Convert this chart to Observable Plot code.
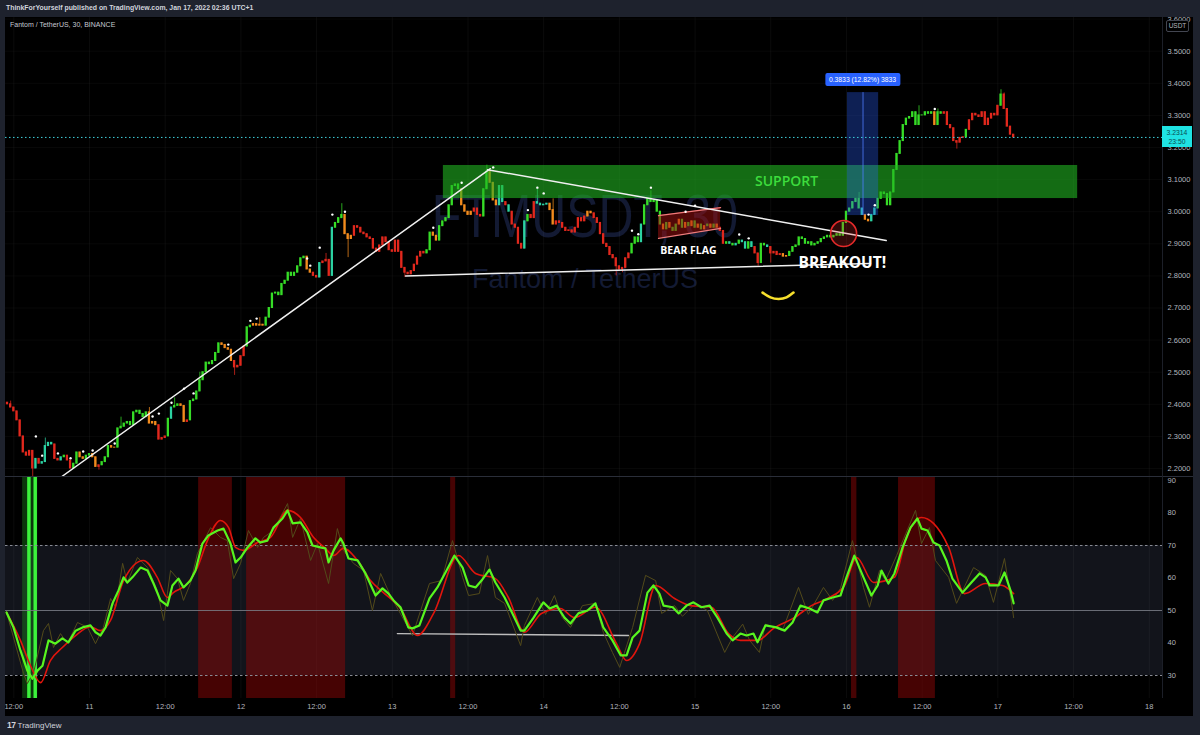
<!DOCTYPE html>
<html><head><meta charset="utf-8">
<script src="https://cdn.jsdelivr.net/npm/d3@7"></script>
<script src="https://cdn.jsdelivr.net/npm/@observablehq/plot@0.6"></script>
<style>
body{margin:0;background:#1e222d;width:1200px;height:735px;position:relative;overflow:hidden;font-family:"Liberation Sans",Arial,sans-serif}
.abs{position:absolute}
</style></head><body>
<div class="abs" style="left:5px;top:17px;width:1188px;height:699px;background:#000"></div>
<div class="abs" style="left:335px;top:185px;width:500px;text-align:center;font:62px 'Liberation Sans',Arial,sans-serif;line-height:62px;color:#131a33;transform:scaleX(0.78);white-space:nowrap">FTMUSDT, 30</div>
<div class="abs" style="left:385px;top:266px;width:400px;text-align:center;font:27px 'Liberation Sans',Arial,sans-serif;line-height:27px;color:#131a33;white-space:nowrap">Fantom / TetherUS</div>
<div class="abs" id="p1" style="left:5px;top:17px"></div>
<div class="abs" id="p2" style="left:5px;top:477px"></div>
<div class="abs" style="left:5px;top:476px;width:1188px;height:1px;background:#2a2e39"></div>
<div class="abs" style="left:1162px;top:17px;width:1px;height:681px;background:#1c1f28"></div>
<div class="abs" style="left:0;top:0;width:1200px;height:17px;background:#1e222d;z-index:5"></div>
<div class="abs" style="left:6px;top:4px;font-size:6.9px;font-weight:600;color:#d1d4dc;z-index:6;white-space:nowrap">ThinkForYourself published on TradingView.com, Jan 17, 2022 02:36 UTC+1</div>
<div class="abs" style="left:10px;top:21px;font-size:7px;color:#c5c8d0;white-space:nowrap">Fantom / TetherUS, 30, BINANCE</div>
<div class="abs" style="left:1166px;top:20px;width:21px;height:10px;border:1px solid #434651;border-radius:2px;font-size:6.5px;line-height:10px;text-align:center;color:#b2b5be;background:#000;z-index:6">USDT</div>
<div class="abs" id="lastLbl" style="left:1162px;width:30px;height:21px;background:#1fe3e3;color:#0a4d52;font-size:6.8px;line-height:9px;text-align:center;padding-top:1.5px;box-sizing:border-box"></div>
<div class="abs" id="measLbl" style="transform:translateX(-50%);background:#2962ff;color:#fff;font-size:6.8px;line-height:13px;height:13px;padding:0 4px;border-radius:2px;white-space:nowrap"></div>
<div class="abs" style="left:7px;top:720px;font-size:8px;color:#d1d4dc;white-space:nowrap"><b style="font-size:8.5px;letter-spacing:-0.5px">17</b> TradingView</div>
<script>
// ---------------- DATA ----------------
const firstIndex = 22;          // candle index (30-min bars counted from Jan 10 00:00)
const firstOpen = 2.405;
const closes = [
  // Jan 10 11:00 - 24:00
  2.400, 2.390, 2.378, 2.350, 2.300, 2.250, 2.240, 2.255, 2.200, 2.230,
  2.215, 2.220, 2.270, 2.280, 2.275, 2.230, 2.225, 2.235, 2.240, 2.225,
  2.200, 2.215, 2.250, 2.235, 2.230, 2.240,
  // Jan 11 00-12
  2.245, 2.235, 2.205, 2.210, 2.220, 2.235, 2.270, 2.265, 2.265, 2.325,
  2.330, 2.340, 2.345, 2.335, 2.375, 2.380, 2.370, 2.360, 2.375, 2.340,
  2.345, 2.335, 2.290, 2.295,
  // Jan 11 12-24
  2.300, 2.355, 2.390, 2.395, 2.400, 2.395, 2.345, 2.350, 2.410, 2.415,
  2.440, 2.475, 2.500, 2.530, 2.525, 2.535, 2.560, 2.590, 2.585, 2.575,
  2.570, 2.535, 2.515, 2.520,
  // Jan 12 00-12
  2.550, 2.580, 2.640, 2.645, 2.650, 2.645, 2.648, 2.645, 2.670, 2.700,
  2.745, 2.748, 2.740, 2.775, 2.785, 2.810, 2.800, 2.810, 2.830, 2.855,
  2.860, 2.820, 2.810, 2.800,
  // Jan 12 12-24
  2.795, 2.840, 2.845, 2.850, 2.800, 2.950, 2.965, 2.980, 2.990, 2.930,
  2.915, 2.925, 2.955, 2.950, 2.935, 2.930, 2.920, 2.915, 2.885, 2.875,
  2.895, 2.920, 2.905, 2.880,
  // Jan 13 00-12
  2.875, 2.910, 2.875, 2.825, 2.810, 2.805, 2.815, 2.835, 2.860, 2.875,
  2.870, 2.880, 2.935, 2.925, 2.910, 2.955, 2.970, 2.980, 3.020, 3.080,
  3.085, 3.070, 3.020, 3.000,
  // Jan 13 12-24
  2.990, 3.000, 3.010, 2.990, 2.985, 3.070, 3.125, 3.090, 3.035, 3.020,
  3.080, 3.030, 3.020, 3.000, 2.960, 2.950, 2.900, 2.885, 2.970, 2.990,
  2.980, 3.030, 3.025, 3.020,
  // Jan 14 00-12
  3.022, 3.025, 3.005, 2.960, 2.970, 2.965, 2.950, 2.940, 2.942, 2.935,
  2.950, 2.980, 2.970, 2.985, 3.000, 2.995, 2.980, 2.965, 2.930, 2.900,
  2.890, 2.865, 2.855, 2.830,
  // Jan 14 12-24
  2.820, 2.825, 2.855, 2.870, 2.900, 2.920, 2.905, 2.960, 3.020, 3.040,
  3.030, 3.035, 3.000, 2.960, 2.945, 2.965, 2.950, 2.940, 2.960, 2.975,
  2.950, 2.965, 2.955, 2.970,
  // Jan 15 00-12
  2.950, 2.960, 2.945, 2.955, 2.960, 2.950, 2.960, 2.950, 2.940, 2.900,
  2.905, 2.900, 2.895, 2.900, 2.910, 2.905, 2.885, 2.905, 2.890, 2.870,
  2.840, 2.900, 2.895, 2.890,
  // Jan 15 12-24
  2.870, 2.875, 2.865, 2.868, 2.860, 2.862, 2.875, 2.890, 2.895, 2.920,
  2.915, 2.900, 2.905, 2.895, 2.900, 2.905, 2.915, 2.920, 2.925, 2.920,
  2.925, 2.930, 2.925, 2.965,
  // Jan 16 00-12
  3.000, 3.010, 3.030, 3.040, 3.010, 2.990, 2.975, 2.970, 2.990, 3.010,
  3.040, 3.060, 3.055, 3.020, 3.060, 3.130, 3.180, 3.220, 3.270, 3.290,
  3.295, 3.310, 3.270, 3.300,
  // Jan 16 12-24
  3.300, 3.310, 3.305, 3.310, 3.270, 3.310, 3.305, 3.310, 3.270, 3.260,
  3.220, 3.215, 3.230, 3.232, 3.255, 3.285, 3.305, 3.300, 3.295, 3.310,
  3.270, 3.290, 3.305, 3.300,
  // Jan 17 00:00 - 02:30
  3.330, 3.365, 3.320, 3.265, 3.240, 3.2314
];
// candle colour class per bar: g green, r red, o orange, t teal
const candleKinds = [
  "rrrrrrrrrtrttttrrtgrrggoog",
  "goorgggooggggggggggooorr",
  "rgtggoor" + "gggggggggg" + "oooo" + "rr",
  "rrggoooo" + "ggggggggggggg" + "oor",
  "rtrrrtgggooo" + "rrrrrrrrrrrr",
  "rrrrrrrrrrr" + "ggoo" + "ggggggg" + "oo",
  "oorrrggooottrtrrrrtgrrtt",
  "ttoo" + "rrrrrrrrrr" + "oo" + "rrrrrrrr",
  "rrrrgggtgggggg" + "ogoggogogo",
  "gogogogorrgtgtgttgtrrggt",
  "rrrroo" + "gggggggggggggggggg",
  "gggggtoott" + "gggggggggggggg",
  "ggggoggrrrrrrrg" + "rrrrrrrrr",
  "rgrrrr"
].join("").split("");
// prominent wicks
const wickIdx  = [23, 30, 34, 51, 58, 67, 75, 83, 94, 102, 123, 128, 130, 148, 174, 190, 195, 215, 217, 226, 260, 264, 292, 311, 317, 323, 337, 338];
const wickHigh = [2.41, null, 2.295, null, 2.36, 2.39, 2.42, 2.50, null, 2.67, 2.87, 3.025, null, null, 3.145, 3.07, 3.04, null, null, 3.065, null, null, 3.06, 3.33, 3.32, null, 3.38, 3.37];
const wickLow  = [null, 2.172, null, 2.195, null, null, null, null, 2.49, null, null, null, 2.857, 2.795, null, null, null, 2.80, 2.81, null, 2.83, 2.84, null, null, null, 3.195, null, null];
// fractal dots
const dotIdx   = [31, 33, 38, 42, 46, 49, 56, 68, 70, 74, 78, 81, 92, 99, 101, 117, 118, 121, 125, 129, 157, 166, 176, 187, 190, 192, 220, 222, 226, 237, 240, 254, 257, 295, 297, 316];
const dotPrice = [2.30, 2.24, 2.247, 2.232, 2.253, 2.256, 2.278, 2.362, 2.371, 2.405, 2.449, 2.434, 2.586, 2.66, 2.667, 2.854, 2.832, 2.888, 2.991, 3.0, 2.95, 3.09, 3.138, 3.005, 3.075, 3.057, 2.941, 2.93, 3.075, 3.0, 3.019, 2.929, 2.917, 2.991, 3.02, 3.32];

const priceTicks = [2.2, 2.3, 2.4, 2.5, 2.6, 2.7, 2.8, 2.9, 3.0, 3.1, 3.2, 3.3, 3.4, 3.5, 3.6];
const rsiTicks = [30, 40, 50, 60, 70, 80, 90];
const xTickIdx = [24, 48, 72, 96, 120, 144, 168, 192, 216, 240, 264, 288, 312, 336, 360, 384];
const xTickLabels = ["12:00", "11", "12:00", "12", "12:00", "13", "12:00", "14", "12:00", "15", "12:00", "16", "12:00", "17", "12:00", "18"];
const lastClose = 3.2314;

// drawings (index, price)
const upTrend   = [[38.8, 2.172], [175.1, 3.134]];
const topTrend  = [[174.2, 3.131], [300.6, 2.910]];
const baseLine  = [[148.2, 2.800], [295.6, 2.839]];
const supportZone = {x1: 160.2, x2: 361.3, y1: 3.041, y2: 3.144};
const measureZone = {x1: 288.3, x2: 298.2, y1: 2.988, y2: 3.371};
const measureText = "0.3833 (12.82%) 3833";
const bearFlag = [{x: 228.4, lo: 2.917, hi: 2.988}, {x: 248.1, lo: 2.948, hi: 3.013}];
const breakoutCircle = [{x: 287.1, y: 2.932}];
const smile = [[261.4, 2.748], [263.9, 2.733], [266.5, 2.728], [269.0, 2.733], [271.2, 2.748]];
const labels = [
  {x: 269, y: 3.0925, text: "SUPPORT", kind: "support"},
  {x: 237.9, y: 2.879, text: "BEAR FLAG", kind: "flag"},
  {x: 286.7, y: 2.839, text: "BREAKOUT!", kind: "breakout"}
];

// RSI panel (index, value)
const rsiFast = [[21.7,49.4],[23.9,44.8],[26.1,37.7],[28.3,31.5],[29.9,29],[31.5,31.5],[33.1,33],[35.0,40.8],[37.2,39.8],[39.4,41.4],[41.3,40.2],[43.6,43.8],[45.8,44.8],[48.3,45.4],[49.9,43.3],[51.5,42.3],[53.1,44.8],[55.3,52.2],[57.2,56.2],[58.8,60.2],[60.0,58.6],[61.6,60.2],[64.2,63.2],[66.4,62.3],[68.3,58.3],[70.5,53.1],[72.7,51.5],[74.3,57.7],[76.2,59.8],[77.8,57.1],[80.0,59.2],[81.6,62.3],[83.8,70.6],[85.7,73.1],[88.6,74.6],[90.5,75.2],[92.7,70.6],[94.3,64.8],[95.9,66.3],[98.1,69.4],[100.6,72.2],[102.2,70.9],[104.4,71.5],[106.3,75.5],[109.2,78.3],[110.8,80.8],[112.4,76.8],[114.9,77.1],[117.1,74],[118.7,70],[121.2,69.4],[122.8,69.1],[123.8,64.8],[125.4,68.5],[127.6,72.2],[128.5,70.6],[130.1,66],[133.0,65.4],[135.5,61.4],[138.7,54.6],[140.9,56.8],[142.8,55.2],[144.4,53.1],[146.6,51],[149.1,44.8],[150.4,44.5],[152.6,45.4],[155.8,53.7],[158.3,57.1],[161.2,62.3],[163.7,66.9],[166.3,63.2],[168.2,57.7],[170.4,57.1],[172.3,59.2],[174.8,62.6],[176.7,58.6],[179.6,54],[182.1,49.1],[184.7,43.8],[185.9,43.8],[188.8,47.8],[191.9,52.5],[193.9,50.6],[196.1,51.5],[198.6,47.8],[200.5,46],[203.0,49.1],[205.9,50],[208.4,52.2],[210.9,44.8],[213.8,40.8],[216.4,36.2],[218.3,36.2],[220.2,41.7],[222.4,43.8],[224.9,55.5],[226.8,57.7],[228.7,55.2],[230.0,51.5],[232.9,51],[234.8,49.1],[237.3,51.5],[239.5,52.5],[242.0,51],[244.6,51.5],[247.1,47.8],[250.0,42.9],[251.9,40.8],[254.4,42.9],[256.3,42.3],[258.5,42.9],[259.8,40.2],[262.3,45.4],[265.8,44.8],[268.4,43.8],[270.9,46.3],[273.4,51.5],[276.3,50.6],[278.8,49.4],[280.7,53.1],[283.6,54],[286.1,54.6],[288.0,60.2],[290.5,66.9],[293.4,60.2],[295.9,54.6],[297.9,57.7],[299.1,62.3],[301.3,58.3],[303.2,61.4],[305.8,69.4],[308.3,75.5],[310.5,78.3],[311.8,75.2],[313.7,74.6],[315.6,70.9],[317.5,70],[319.7,65.4],[321.6,59.8],[324.8,55.5],[327.6,58.6],[330.2,61.4],[332.1,60.2],[333.4,57.7],[336.2,57.7],[338.1,61.7],[340.0,56.2],[341.0,52.2]];
const rsiSlow = [[21.7,49.4],[26.1,40.8],[29.3,33],[32.5,27.8],[35.6,34.6],[39.4,38.6],[43.6,42.3],[48.3,45],[51.5,43.8],[54.7,47],[58.8,59.2],[65.1,65.4],[69.5,60.2],[72.7,54],[74.6,55.5],[79.1,58.3],[82.2,63.2],[85.4,71.5],[89.5,77.7],[92.1,75.5],[94.3,69.4],[96.8,68.5],[101.3,70.9],[105.4,72.5],[110.8,80.8],[114.9,78.6],[119.0,72.5],[122.8,69.1],[125.4,66.9],[128.5,69.1],[133.0,65.4],[137.1,59.2],[141.2,55.5],[146.6,50.6],[152.0,42.3],[157.1,49.1],[165.0,66.9],[170.4,61.4],[176.7,59.8],[180.8,54],[185.9,43.3],[191.3,49.1],[197.3,50.6],[201.8,47.8],[208.4,51],[215.1,39.8],[218.3,34.6],[222.4,39.8],[227.5,57.7],[233.5,53.7],[238.6,51.5],[245.2,51],[250.6,42.9],[254.4,40.8],[259.8,40.8],[264.9,44.5],[271.5,47.8],[276.9,51.5],[282.0,53.7],[287.4,57.7],[291.2,66.3],[296.6,58.6],[303.2,60.2],[307.0,72.5],[311.8,78.6],[315.6,76.8],[320.4,69.4],[325.4,55.2],[332.1,58.3],[337.5,57.7],[341.0,55.2]];
const rsiRaw = [[21.7,49.4],[27.1,30.6],[28.3,27.5],[30.3,31],[33.4,43.8],[35.0,46],[36.6,38.6],[38.8,42.9],[41.0,39.8],[44.2,46.3],[47.4,44.8],[49.9,39.8],[52.4,44.8],[54.7,53.7],[56.3,51],[58.5,64.5],[60.0,58.6],[63.2,66.3],[66.4,63.2],[69.5,56.2],[71.5,46.9],[73.7,62.3],[75.9,59.8],[77.8,53.1],[80.0,58.3],[82.2,67.5],[86.4,75.5],[89.5,72.5],[91.7,71.5],[93.7,59.8],[95.9,64.5],[98.4,74.6],[101.3,69.4],[103.2,72.5],[106.3,74.6],[110.8,82.9],[112.4,72.5],[114.9,78.3],[118.1,65.4],[120.3,70.6],[123.8,58.3],[126.6,75.2],[128.5,68.5],[131.7,64.5],[134.9,62.3],[137.7,50],[140.3,61.4],[143.4,54.6],[146.6,49],[150.4,42.3],[155.8,58.3],[159.6,59.2],[163.1,71.5],[166.3,60.2],[168.2,54.6],[171.6,55.2],[174.2,66.9],[176.7,54],[179.6,52.2],[184.7,39.2],[185.9,45.4],[190.0,54],[192.6,48.8],[195.4,54.6],[197.9,47.8],[200.5,44.8],[204.3,51.5],[208.4,52.2],[210.9,43.3],[213.8,37.1],[216.1,32.5],[220.2,44.8],[224.3,60.8],[227.5,59.2],[229.4,49.1],[233.5,51.5],[236.0,48.2],[240.1,52.2],[243.9,50],[249.4,37.1],[251.9,41.7],[255.1,45.8],[257.3,40.8],[260.4,37.1],[262.3,45.8],[267.7,43.8],[272.8,57.1],[275.9,48.8],[280.7,57.1],[283.6,53.1],[286.1,56.8],[289.9,71.5],[293.4,57.1],[295.3,51],[298.5,62.3],[300.4,59.2],[303.9,66.9],[309.9,80.8],[311.8,70.6],[314.3,75.5],[316.2,65.4],[320.4,60.2],[322.9,52.2],[328.3,63.2],[332.1,60.8],[334.6,52.5],[338.1,66],[340.7,50],[341.0,47.8]];
const overboughtStart = [82.6, 97.8, 162.5, 289.6, 304.5];
const overboughtEnd   = [93.3, 129.2, 164.1, 291.3, 316.2];
const oversoldZone = [[26.8, 31.6]];
const oversoldBars = [[28.4, 29.5], [30.4, 31.5]];
const rsiNote = [[145.6, 42.9], [218.9, 42.3]];

// ---------------- SCALES / STYLES ----------------
const xDomain = [21.37, 388.2];
const priceDomain = [2.172, 3.605];
const rsiDomain = [22.92, 90.92];
const kindColor = {g: "#36dc27", r: "#e2281d", o: "#f28b1d", t: "#2cd2a2"};
const baseStyle = {background: "transparent", color: "#b2b5be", fontFamily: "Liberation Sans, Arial, sans-serif", fontSize: "7.5px"};

const wickMap = new Map(wickIdx.map((i, k) => [i, {hi: wickHigh[k], lo: wickLow[k]}]));
const candles = closes.map((c, k) => {
  const o = k === 0 ? firstOpen : closes[k - 1];
  const w = wickMap.get(firstIndex + k) || {};
  const hi = Math.max(o, c, w.hi == null ? -Infinity : w.hi);
  const lo = Math.min(o, c, w.lo == null ? Infinity : w.lo);
  const kind = candleKinds[k] || (c >= o ? "g" : "r");
  return {i: firstIndex + k, open: o, close: c, high: hi, low: lo, color: kindColor[kind]};
});
const dots = dotIdx.map((i, k) => ({i, p: dotPrice[k]}));
const tickLabel = new Map(xTickIdx.map((t, k) => [t, xTickLabels[k]]));
const obBands = overboughtStart.map((s, k) => ({x1: s, x2: overboughtEnd[k]}));

const p1 = Plot.plot({
  width: 1188, height: 460,
  marginLeft: 0, marginRight: 31, marginTop: 0, marginBottom: 0,
  x: {domain: xDomain, axis: null},
  y: {domain: priceDomain},
  color: {type: "identity"},
  style: baseStyle,
  marks: [
    Plot.gridX(xTickIdx, {stroke: "#ffffff", strokeOpacity: 0.045}),
    Plot.gridY(priceTicks, {stroke: "#ffffff", strokeOpacity: 0.03}),
    Plot.ruleX(candles, {x: "i", y1: "low", y2: "high", stroke: "color", strokeOpacity: 0.75, strokeWidth: 1}),
    Plot.rect(candles, {x1: d => d.i - 0.36, x2: d => d.i + 0.36, y1: "open", y2: "close", fill: "color", insetTop: -0.5, insetBottom: -0.5}),
    Plot.rect([supportZone], {x1: "x1", x2: "x2", y1: "y1", y2: "y2", fill: "#22b422", fillOpacity: 0.6}),
    Plot.rect([measureZone], {x1: "x1", x2: "x2", y1: "y1", y2: "y2", fill: "#2962ff", fillOpacity: 0.33}),
    Plot.ruleX([measureZone], {x: d => (d.x1 + d.x2) / 2, y1: "y1", y2: "y2", stroke: "#4f7dff", strokeOpacity: 0.8, strokeWidth: 1}),
    Plot.areaY(bearFlag, {x: "x", y1: "lo", y2: "hi", fill: "#a41010", fillOpacity: 0.5}),
    Plot.line(bearFlag, {x: "x", y: "hi", stroke: "#f07a7a", strokeWidth: 1.2}),
    Plot.line(bearFlag, {x: "x", y: "lo", stroke: "#f07a7a", strokeWidth: 1.2}),
    Plot.line(upTrend, {x: d => d[0], y: d => d[1], stroke: "#f0f0f0", strokeWidth: 1.5}),
    Plot.line(topTrend, {x: d => d[0], y: d => d[1], stroke: "#f0f0f0", strokeWidth: 1.5}),
    Plot.line(baseLine, {x: d => d[0], y: d => d[1], stroke: "#f0f0f0", strokeWidth: 1.5}),
    Plot.dot(dots, {x: "i", y: "p", r: 1.2, fill: "#ffffff", stroke: null}),
    Plot.dot(breakoutCircle, {x: "x", y: "y", r: 13, stroke: "#e52a2a", strokeWidth: 1.6, fill: "#e52a2a", fillOpacity: 0.22}),
    Plot.line(smile, {x: d => d[0], y: d => d[1], curve: "natural", stroke: "#f6df2c", strokeWidth: 2.6}),
    Plot.text(labels.filter(d => d.kind === "support"), {x: "x", y: "y", text: "text", fill: "#3ddc3d", fontSize: 14, fontWeight: 600, fontFamily: "Open Sans, sans-serif"}),
    Plot.text(labels.filter(d => d.kind === "flag"), {x: "x", y: "y", text: "text", fill: "#ffffff", fontSize: 10.5, fontWeight: "bold", fontFamily: "Open Sans, sans-serif"}),
    Plot.text(labels.filter(d => d.kind === "breakout"), {x: "x", y: "y", text: "text", fill: "#ffffff", fontSize: 15.5, fontWeight: "bold", fontFamily: "Open Sans, sans-serif"}),
    Plot.ruleY([lastClose], {stroke: "#3fd0dc", strokeDasharray: "1.5,2.5", strokeWidth: 1}),
    Plot.axisY(priceTicks, {anchor: "right", tickSize: 0, tickPadding: 5, tickFormat: d => d.toFixed(4), fill: "#b2b5be", label: null})
  ]
});
document.getElementById("p1").appendChild(p1);

const p2 = Plot.plot({
  width: 1188, height: 239,
  marginLeft: 0, marginRight: 31, marginTop: 0, marginBottom: 18,
  x: {domain: xDomain},
  y: {domain: rsiDomain},
  color: {type: "identity"},
  style: baseStyle,
  marks: [
    Plot.rect([{lo: 30, hi: 70}], {x1: () => xDomain[0], x2: () => xDomain[1], y1: "lo", y2: "hi", fill: "#12141b"}),
    Plot.gridX(xTickIdx, {stroke: "#ffffff", strokeOpacity: 0.045}),
    Plot.rect(obBands, {x1: "x1", x2: "x2", y1: () => rsiDomain[0], y2: () => rsiDomain[1], fill: "#8c0606", fillOpacity: 0.5}),
    Plot.rect(oversoldZone, {x1: d => d[0], x2: d => d[1], y1: () => rsiDomain[0], y2: () => rsiDomain[1], fill: "#1f9a1f", fillOpacity: 0.35}),
    Plot.rect(oversoldBars, {x1: d => d[0], x2: d => d[1], y1: () => rsiDomain[0], y2: () => rsiDomain[1], fill: "#3cf23c"}),
    Plot.ruleY([70, 30], {stroke: "#8a8d96", strokeDasharray: "2.5,2.5", strokeWidth: 1}),
    Plot.ruleY([50], {stroke: "#7b7e87", strokeOpacity: 0.85, strokeWidth: 1}),
    Plot.line(rsiNote, {x: d => d[0], y: d => d[1], stroke: "#bdbdbd", strokeWidth: 1.3}),
    Plot.line(rsiRaw, {x: d => d[0], y: d => d[1], stroke: "#524a1a", strokeWidth: 1}),
    Plot.line(rsiSlow, {x: d => d[0], y: d => d[1], stroke: "#e0150d", strokeWidth: 1.6, curve: "monotone-x"}),
    Plot.line(rsiFast, {x: d => d[0], y: d => d[1], stroke: "#58f51f", strokeWidth: 2.2}),
    Plot.axisY(rsiTicks, {anchor: "right", tickSize: 0, tickPadding: 5, fill: "#b2b5be", label: null}),
    Plot.axisX(xTickIdx, {tickSize: 0, tickPadding: 5, tickFormat: d => tickLabel.get(d), fill: "#b2b5be", label: null})
  ]
});
document.getElementById("p2").appendChild(p2);

// overlays positioned with the plot's own scales
const xs = p1.scale("x"), ys = p1.scale("y");
const lastLbl = document.getElementById("lastLbl");
lastLbl.innerHTML = lastClose.toFixed(4) + "<br>23:50";
lastLbl.style.top = (17 + ys.apply(lastClose) - 10.5) + "px";
const meas = document.getElementById("measLbl");
meas.textContent = measureText;
meas.style.left = (5 + xs.apply((measureZone.x1 + measureZone.x2) / 2)) + "px";
meas.style.top = (17 + ys.apply(measureZone.y2) - 19) + "px";
</script>
</body></html>
